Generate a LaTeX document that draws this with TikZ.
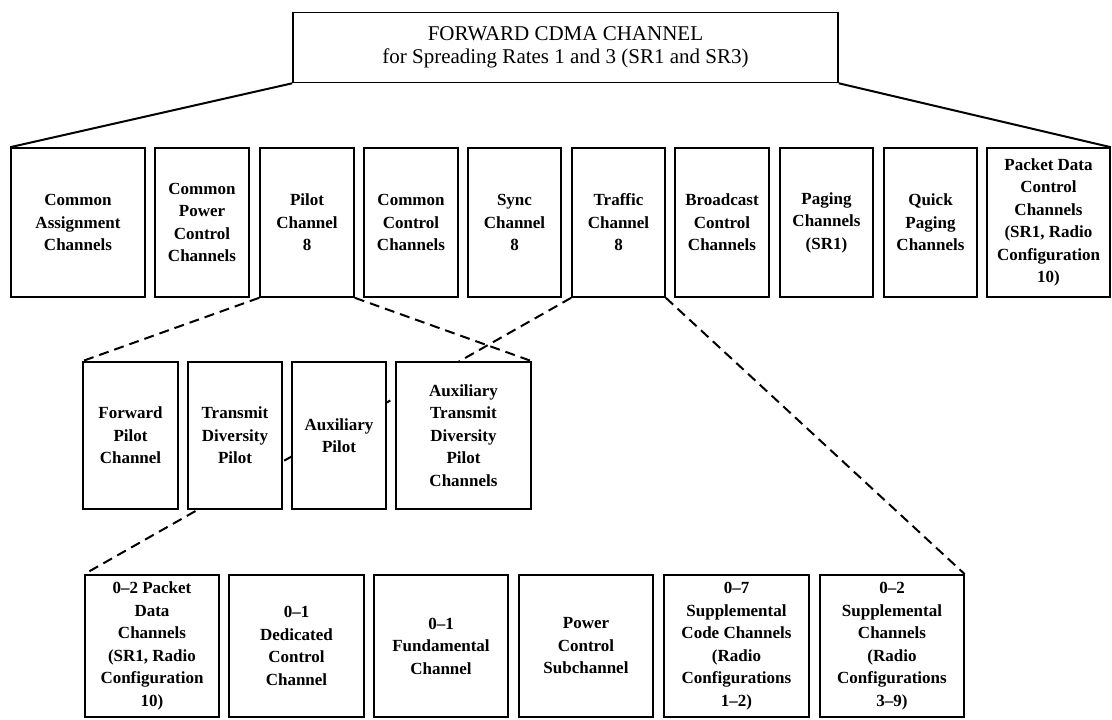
\documentclass[tikz,border=0pt]{standalone}
\usepackage{fontspec}
\setmainfont{Liberation Serif}
\usetikzlibrary{backgrounds}
\begin{document}
\begin{tikzpicture}[x=1pt,y=-1pt,
  chan/.style={draw=black, line width=1.6pt, fill=white, inner sep=0pt,
    align=center, font=\bfseries\fontsize{17}{22.5}\selectfont},
  rowone/.style={chan, minimum height=149pt},
  rowtwo/.style={chan, minimum height=147pt},
  rowthree/.style={chan, minimum height=142pt},
  header/.style={draw=black, line width=1.6pt, fill=white, inner sep=0pt,
    align=center, font=\fontsize{21}{23}\selectfont,
    minimum width=545pt, minimum height=70pt},
  link/.style={line width=2pt},
  sublink/.style={line width=2pt, dash pattern=on 10pt off 6pt},
]
\useasboundingbox (0,0) rectangle (1112,720);

% top of the tree
\node[header] (fwd) at (565.5,47.5)
  {FORWARD CDMA CHANNEL\\for Spreading Rates 1 and 3 (SR1 and SR3)};

% first level: the forward channel types
\node[rowone, minimum width=134pt] (cac)  at (78,222.5)   {Common\\Assignment\\Channels};
\node[rowone, minimum width=94pt]  (cpc)  at (202,222.5)  {Common\\Power\\Control\\Channels};
\node[rowone, minimum width=94pt]  (pil)  at (307,222.5)  {Pilot\\Channel\\8};
\node[rowone, minimum width=94pt]  (ccc)  at (411,222.5)  {Common\\Control\\Channels};
\node[rowone, minimum width=93pt]  (syn)  at (514.5,222.5){Sync\\Channel\\8};
\node[rowone, minimum width=93pt]  (tra)  at (618.5,222.5){Traffic\\Channel\\8};
\node[rowone, minimum width=94pt]  (bcc)  at (722,222.5)  {Broadcast\\Control\\Channels};
\node[rowone, minimum width=93pt]  (pag)  at (826.5,222.5){Paging\\Channels\\(SR1)};
\node[rowone, minimum width=93pt]  (qpc)  at (930.5,222.5){Quick\\Paging\\Channels};
\node[rowone, minimum width=123pt] (pdcc) at (1048.5,222.5){Packet Data\\Control\\Channels\\(SR1, Radio\\Configuration\\10)};

% second level: pilot channels
\node[rowtwo, minimum width=95pt]  (fpc)  at (130.5,435.5){Forward\\Pilot\\Channel};
\node[rowtwo, minimum width=94pt]  (tdp)  at (235,435.5)  {Transmit\\Diversity\\Pilot};
\node[rowtwo, minimum width=94pt]  (aux)  at (339,435.5)  {Auxiliary\\Pilot};
\node[rowtwo, minimum width=135pt] (atd)  at (463.5,435.5){Auxiliary\\Transmit\\Diversity\\Pilot\\Channels};

% third level: traffic channels
\node[rowthree, minimum width=134pt] (pdc) at (152,646)   {0--2 Packet\\Data\\Channels\\(SR1, Radio\\Configuration\\10)};
\node[rowthree, minimum width=135pt] (dcc) at (296.5,646) {0--1\\Dedicated\\Control\\Channel};
\node[rowthree, minimum width=134pt] (fch) at (441,646)   {0--1\\Fundamental\\Channel};
\node[rowthree, minimum width=134pt] (pcs) at (586,646)   {Power\\Control\\Subchannel};
\node[rowthree, minimum width=145pt] (scc) at (736.5,646) {0--7\\Supplemental\\Code Channels\\(Radio\\Configurations\\1--2)};
\node[rowthree, minimum width=144pt] (sch) at (892,646)   {0--2\\Supplemental\\Channels\\(Radio\\Configurations\\3--9)};

% fan-out lines
\draw[link] (fwd.south west) -- (cac.north west);
\draw[link] (fwd.south east) -- (pdcc.north east);
\draw[sublink] (pil.south west) -- (fpc.north west);
\draw[sublink] (pil.south east) -- (atd.north east);
\draw[sublink] (tra.south east) -- (sch.north east);
\begin{scope}[on background layer]
  \draw[sublink] (tra.south west) -- (pdc.north west);
\end{scope}
\end{tikzpicture}
\end{document}
